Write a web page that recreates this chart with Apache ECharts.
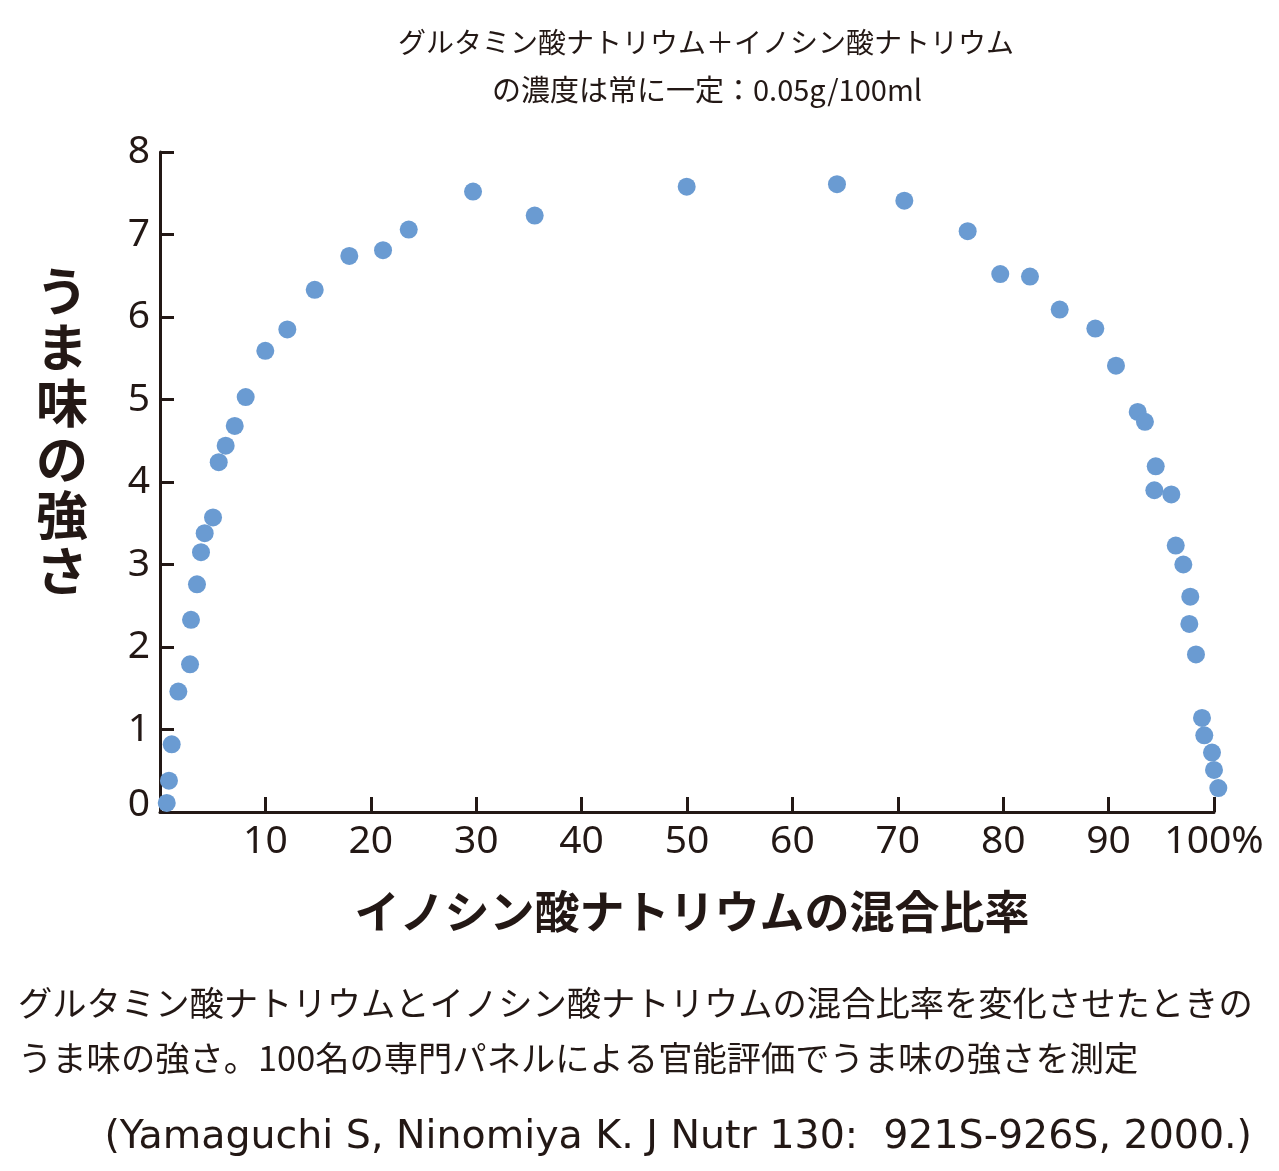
<!DOCTYPE html>
<html>
<head>
<meta charset="utf-8">
<script src="https://cdn.jsdelivr.net/npm/echarts@6/dist/echarts.min.js"></script>
<style>
html,body{margin:0;padding:0;background:#fff;}
#c{width:1279px;height:1171px;}
</style>
</head>
<body>
<div id="c"></div>
<script>
// Data: inosinate ratio (%) vs umami intensity
const ratio = [0.64,0.85,1.11,1.74,2.85,2.94,3.51,3.89,4.24,5.03,5.57,6.23,7.09,8.13,9.99,12.08,14.68,17.96,21.16,23.6,29.7,35.55,49.97,64.23,70.62,76.63,79.72,82.54,85.36,88.74,90.7,92.76,93.45,94.47,94.34,95.95,96.37,97.09,97.75,97.66,98.29,98.86,99.08,99.81,100.0,100.41];
const intensity = [0.11,0.38,0.82,1.46,1.79,2.33,2.76,3.15,3.38,3.57,4.24,4.44,4.68,5.03,5.59,5.85,6.33,6.74,6.81,7.06,7.52,7.23,7.58,7.61,7.41,7.04,6.52,6.49,6.09,5.86,5.41,4.85,4.73,4.19,3.90,3.85,3.23,3.00,2.61,2.28,1.91,1.14,0.93,0.72,0.51,0.29];
const xTicks = [10,20,30,40,50,60,70,80,90,100];
const yTicks = [0,1,2,3,4,5,6,7,8];
const titleLines = ['グルタミン酸ナトリウム＋イノシン酸ナトリウム','の濃度は常に一定：0.05g/100ml'];
const yName = 'うま味の強さ';
const xName = 'イノシン酸ナトリウムの混合比率';
const captionLines = ['グルタミン酸ナトリウムとイノシン酸ナトリウムの混合比率を変化させたときの','うま味の強さ。100名の専門パネルによる官能評価でうま味の強さを測定'];
const citation = '(Yamaguchi S, Ninomiya K. J Nutr 130:  921S-926S, 2000.)';

const INK = '#231815';
const JP = '"Noto Sans CJK JP","Noto Sans",sans-serif';
const LAT = '"Noto Sans","Noto Sans CJK JP",sans-serif';
const CIT = '"DejaVu Sans","Noto Sans",sans-serif';

const chart = echarts.init(document.getElementById('c'), null, {renderer:'canvas'});
const pts = ratio.map((x,i)=>[x,intensity[i]]);

chart.setOption({
  backgroundColor:'#fff',
  animation:false,
  grid:{left:160,right:65,top:152,bottom:359,containLabel:false},
  xAxis:{
    type:'value',min:0,max:100,interval:10,
    axisLine:{show:true,lineStyle:{color:INK,width:3}},
    axisTick:{show:true,inside:true,length:15,lineStyle:{color:INK,width:3},
      customValues: xTicks},
    axisLabel:{show:true,color:INK,fontSize:39,fontFamily:LAT,margin:10,
      customValues: xTicks,
      formatter:v=> v===100 ? '100%' : String(v)},
    splitLine:{show:false}
  },
  yAxis:{
    type:'value',min:0,max:8,interval:1,
    axisLine:{show:true,lineStyle:{color:INK,width:3}},
    axisTick:{show:true,inside:true,length:14,lineStyle:{color:INK,width:3},customValues:yTicks},
    axisLabel:{show:true,color:INK,fontSize:39,fontFamily:LAT,margin:10,customValues:yTicks,
      formatter:v=> v===0 ? '{z|0}' : String(v),
      rich:{z:{fontSize:39,fontFamily:LAT,color:INK,padding:[0,0,14,0]}}},
    splitLine:{show:false}
  },
  series:[{
    type:'scatter',
    data:pts,
    symbol:'circle',
    symbolSize:18,
    clip:false,
    itemStyle:{color:'#6a9bd2',opacity:1},
    silent:true
  }],
  graphic:[
    {type:'text',style:{text:titleLines[0],x:706,y:42,font:'28px '+JP,fill:INK,textAlign:'center',textVerticalAlign:'middle'}},
    {type:'text',style:{text:titleLines[1],x:707,y:90,font:'29px '+JP,fill:INK,textAlign:'center',textVerticalAlign:'middle'}},
    {type:'text',style:{text:yName.split('').join('\n'),x:62,y:263,font:'bold 52px '+JP,lineHeight:56,fill:INK,textAlign:'center',textVerticalAlign:'top'}},
    {type:'text',style:{text:xName,x:692,y:912,font:'bold 45px '+JP,fill:INK,textAlign:'center',textVerticalAlign:'middle'}},
    {type:'text',style:{text:captionLines[0],x:18,y:1003,font:'34.3px '+JP,fill:INK,textAlign:'left',textVerticalAlign:'middle'}},
    {type:'text',style:{text:captionLines[1],x:18,y:1058,font:'34.3px '+JP,fill:INK,textAlign:'left',textVerticalAlign:'middle'}},
    {type:'text',style:{text:citation,x:1252,y:1138,font:'39.5px '+CIT,fill:INK,textAlign:'right',textVerticalAlign:'middle'}}
  ]
});
</script>
</body>
</html>
